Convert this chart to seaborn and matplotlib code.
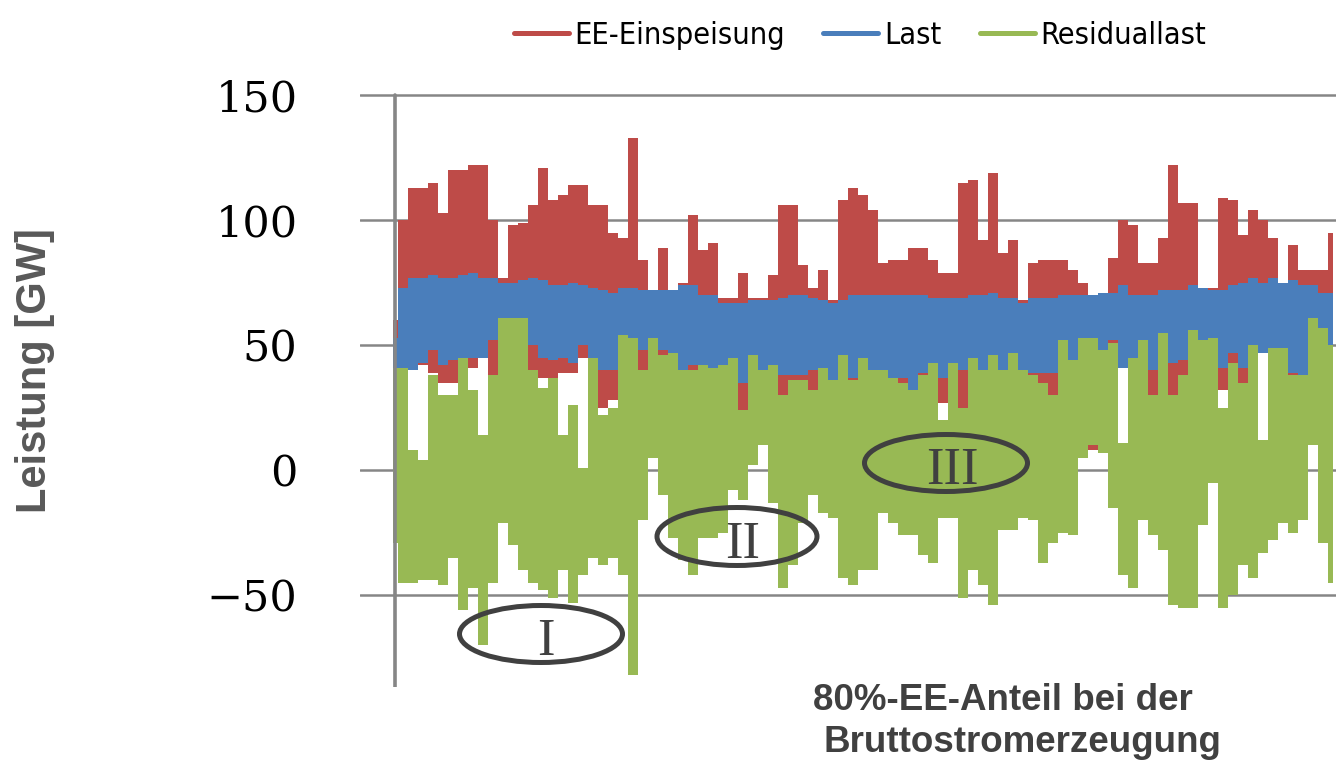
import numpy as np
import pandas as pd
import matplotlib
matplotlib.use("Agg")
import matplotlib.pyplot as plt
import seaborn as sns
from matplotlib.patches import Ellipse
from matplotlib.lines import Line2D
from matplotlib import font_manager as fm

# ---- data: per period (column) min / max of each series in GW ----
ee_max = [60,
    100, 113, 113, 115, 103, 120, 120, 122, 122, 100,
    77, 98, 99, 106, 121, 108, 110, 114, 114, 106,
    106, 95, 93, 133, 84, 70, 89, 70, 75, 102,
    88, 91, 69, 69, 79, 69, 69, 78, 106, 106,
    82, 73, 80, 68, 108, 113, 110, 104, 83, 84,
    84, 89, 89, 84, 79, 79, 115, 116, 92, 119,
    87, 92, 68, 83, 84, 84, 84, 80, 75, 70,
    70, 85, 100, 98, 83, 83, 93, 122, 107, 107,
    72, 73, 109, 108, 94, 104, 100, 93, 74, 90,
    80, 80, 80, 95]
ee_min = [11,
    30, 42, 42, 39, 35, 35, 40, 41, 46, 35,
    9, 9, 30, 37, 37, 25, 39, 39, 45, 25,
    25, 28, 30, 30, 38, 11, 40, 45, 27, 27,
    40, 38, 40, 40, 23, 40, 40, 40, 25, 25,
    33, 30, 36, 33, 36, 35, 35, 30, 33, 37,
    34, 32, 35, 36, 27, 27, 25, 35, 31, 35,
    33, 33, 33, 32, 31, 30, 25, 35, 8, 8,
    10, 35, 42, 35, 35, 30, 35, 29, 32, 39,
    12, 35, 32, 41, 35, 35, 47, 35, 35, 38,
    37, 40, 40, 40]
last_max = [53,
    73, 77, 77, 78, 77, 77, 78, 79, 77, 77,
    75, 75, 76, 77, 76, 74, 74, 75, 74, 73,
    72, 71, 73, 73, 72, 72, 72, 72, 74, 74,
    70, 70, 67, 67, 67, 68, 68, 68, 69, 70,
    70, 69, 68, 67, 68, 70, 70, 70, 70, 70,
    70, 70, 70, 69, 69, 69, 69, 70, 70, 71,
    69, 69, 67, 69, 69, 69, 70, 70, 70, 70,
    71, 71, 74, 70, 70, 70, 72, 72, 72, 74,
    73, 72, 72, 74, 75, 77, 75, 77, 75, 76,
    74, 74, 71, 71]
last_min = [41,
    41, 40, 43, 48, 42, 44, 45, 45, 45, 52,
    48, 48, 50, 50, 45, 44, 45, 43, 50, 45,
    40, 40, 50, 52, 48, 53, 48, 47, 40, 42,
    42, 41, 42, 45, 35, 46, 39, 40, 38, 38,
    38, 40, 41, 36, 46, 37, 45, 37, 37, 37,
    37, 32, 39, 43, 37, 43, 40, 45, 40, 46,
    40, 47, 40, 39, 39, 39, 52, 44, 53, 53,
    48, 52, 41, 40, 52, 40, 55, 43, 44, 56,
    52, 53, 41, 47, 41, 50, 47, 49, 49, 39,
    38, 55, 57, 45]
res_max = [41,
    41, 8, 4, 38, 30, 30, 45, 32, 14, 38,
    61, 61, 61, 40, 33, 37, 14, 26, 1, 45,
    22, 25, 54, 53, 40, 53, 46, 47, 40, 40,
    42, 41, 42, 45, 24, 46, 40, 42, 30, 36,
    36, 32, 41, 36, 46, 36, 45, 40, 40, 37,
    35, 32, 38, 43, 20, 43, 25, 45, 40, 46,
    40, 47, 40, 38, 35, 30, 52, 44, 53, 53,
    48, 51, 11, 45, 52, 30, 55, 30, 38, 56,
    52, 53, 25, 43, 35, 50, 12, 49, 49, 38,
    38, 61, 57, 50]
res_min = [-29,
    -45, -45, -44, -44, -46, -35, -56, -47, -70, -45,
    -21, -30, -40, -45, -48, -51, -40, -53, -42, -35,
    -38, -35, -42, -82, -20, 5, -10, -27, -36, -42,
    -27, -27, -25, -8, -12, 2, 10, -13, -47, -38,
    -21, -10, -17, -19, -43, -46, -40, -40, -17, -21,
    -26, -26, -34, -37, -19, -19, -51, -40, -46, -54,
    -24, -24, -19, -20, -37, -29, -25, -26, 5, 10,
    7, -15, -42, -47, -20, -26, -32, -54, -55, -55,
    -22, -5, -55, -50, -38, -43, -33, -28, -21, -25,
    -20, 10, -29, -45]

series_names = ["EE-Einspeisung", "Last", "Residuallast"]
series_colors = ["#BE4B48", "#4A7EBB", "#98B954"]
yticks = [-50, 0, 50, 100, 150]
ytick_labels = ["\u221250", "0", "50", "100", "150"]

# ---- styling ----
sns.set_theme(style="white")
plt.rcParams["font.family"] = ["DejaVu Sans"]

# pick a condensed sans font for the legend if one is installed
legend_size = 22
legend_prop = None
for f in fm.fontManager.ttflist:
    if ("Narrow" in f.name or "Condensed" in f.fname) and f.weight in (400, "normal", "regular") \
            and f.style == "normal" and "Mono" not in f.name and "Serif" not in f.name:
        legend_prop = fm.FontProperties(fname=f.fname, size=legend_size)
        break
if legend_prop is None:
    legend_size = 20
    legend_prop = fm.FontProperties(family="Liberation Sans", size=legend_size)
em_px = legend_size * 100 / 72

W, H = 1336, 760
fig = plt.figure(figsize=(W / 100, H / 100), dpi=100)
ax = fig.add_axes([360 / W, 73 / H, 976 / W, (687 - 92.5) / H])

idx = np.arange(len(ee_max))
bands = [(ee_min, ee_max), (last_min, last_max), (res_min, res_max)]
for name, (lo, hi), col in zip(series_names, bands, series_colors):
    df = pd.DataFrame({
        "Zeitraum": np.concatenate([idx, idx]),
        "Leistung": np.concatenate([np.asarray(lo, float), np.asarray(hi, float)]),
    })
    sns.lineplot(data=df, x="Zeitraum", y="Leistung", estimator="mean",
                 errorbar=("pi", 100), color=col, linewidth=0, legend=False,
                 err_kws={"alpha": 1, "step": "mid", "linewidth": 0}, ax=ax)

ax.set_xlim(-3.3, 94.3)
ax.set_ylim(-86.8, 151)
ax.set_xticks([])
ax.set_yticks(yticks)
ax.set_yticklabels(ytick_labels, fontfamily="DejaVu Serif", fontsize=31, color="black")
ax.tick_params(axis="y", length=0, pad=45)
ax.set_xlabel("")
ax.set_ylabel("")
ax.grid(axis="y", color="#868686", linewidth=1.8)
ax.grid(axis="x", visible=False)
ax.set_axisbelow(True)
for s in ax.spines.values():
    s.set_visible(False)
ax.axvline(0.2, ymin=0, ymax=(150 + 86.8) / (151 + 86.8), color="#868686", linewidth=2.6, zorder=5)

# annotations: ellipses with roman numerals
ell_color = "#404040"
for (cx, cy, w, h) in [(14.8, -65.6, 16.3, 22.8), (34.4, -26.6, 16.0, 23.2), (55.3, 2.8, 16.3, 22.8)]:
    ax.add_patch(Ellipse((cx, cy), w, h, fill=False, edgecolor=ell_color, linewidth=3.6, zorder=6, clip_on=False))
for (tx, ty, t) in [(15.3, -74, "I"), (35.0, -35.2, "II"), (55.9, -5.6, "III")]:
    ax.text(tx, ty, t, ha="center", va="baseline", fontsize=38, family="Liberation Serif",
            color=ell_color, zorder=7)

# legend
handles = [Line2D([], [], color=c, linewidth=3.6) for c in series_colors]
leg = fig.legend(handles, series_names, loc="center", bbox_to_anchor=(860 / W, 1 - 35 / H), ncol=3,
                 frameon=False, prop=legend_prop, handlelength=55 / em_px,
                 handletextpad=6 / em_px, columnspacing=38 / em_px)
for t in leg.get_texts():
    t.set_color("black")

# axis title and caption
fig.text(35 / W, 1 - 371 / H, "Leistung [GW]", rotation=90, ha="center", va="center",
         fontsize=30, fontweight="bold", color="#595959", family="Liberation Sans")
fig.text(1003 / W, 1 - 710 / H, "80%-EE-Anteil bei der", ha="center", va="baseline",
         fontsize=26.5, fontweight="bold", color="#404040", family="Liberation Sans")
fig.text(1022 / W, 1 - 752 / H, "Bruttostromerzeugung", ha="center", va="baseline",
         fontsize=26.5, fontweight="bold", color="#404040", family="Liberation Sans")

fig.savefig("out.png", dpi=100)
